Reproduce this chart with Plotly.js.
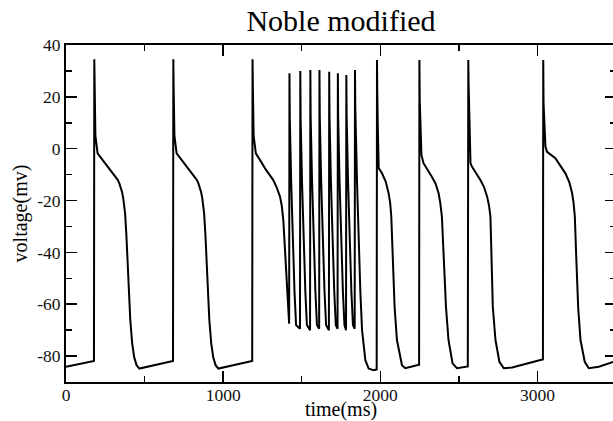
<!DOCTYPE html>
<html>
<head>
<meta charset="utf-8">
<script src="https://cdn.plot.ly/plotly-3.0.1.min.js"></script>
<style>
  html, body { margin: 0; padding: 0; overflow: hidden; background: #fff; }
  #chart { width: 618px; height: 421px; }
</style>
</head>
<body>
<div id="chart"></div>
<script>
// Regular paced beats (time in ms, voltage in mV)
const pacedTime = [0, 178, 180, 182, 187, 201, 229, 264, 299, 329, 339, 349, 357, 364, 370, 376, 384, 391, 399, 409, 421, 434, 449, 467,
  681, 683, 685, 690, 704, 732, 767, 802, 832, 842, 852, 860, 867, 873, 879, 887, 894, 902, 912, 924, 937, 952, 970,
  1185, 1187, 1189, 1194, 1208, 1236, 1271, 1318, 1340, 1362, 1373, 1383, 1394, 1405, 1415, 1420];
const pacedVolt = [-84.1, -81.9, 34.5, 24, 5, -1.8, -4, -6.8, -9.5, -12, -13.3, -15, -16.8, -19, -21.5, -25, -33, -42, -55, -66, -75, -80.5, -83.5, -84.8,
  -81.9, 34.5, 24, 5, -1.8, -4, -6.8, -9.5, -12, -13.3, -15, -16.8, -19, -21.5, -25, -33, -42, -55, -66, -75, -80.5, -83.5, -84.8,
  -81.9, 34.5, 24, 5, -1.8, -4.5, -8, -12, -14.8, -18.5, -22, -27.6, -40.4, -53.3, -64.9, -67.5];

// Fast burst of spikes
const burstTime = [1422, 1424, 1433, 1443, 1454, 1464, 1489,
  1491, 1493, 1502, 1512, 1523, 1533, 1553,
  1555, 1557, 1566, 1576, 1587, 1597, 1611,
  1613, 1615, 1624, 1634, 1645, 1655, 1673,
  1675, 1677, 1686, 1696, 1707, 1717, 1728,
  1730, 1732, 1741, 1751, 1762, 1772, 1782,
  1784, 1786, 1795, 1805, 1816, 1826, 1837,
  1839, 1841, 1852, 1862, 1873, 1884, 1905, 1926, 1957, 1977];
const burstVolt = [29.1, 12, -13, -35, -55, -68, -69.5,
  30, 12, -13, -35, -55, -68, -70,
  30.4, 12, -13, -35, -55, -68, -69.5,
  30.4, 12, -13, -35, -55, -68, -70,
  29.7, 12, -13, -35, -55, -68, -69.5,
  29.1, 12, -13, -35, -55, -68, -70,
  28.4, 12, -13, -35, -55, -68, -69.5,
  30.4, 16, -13, -35, -55, -70, -81.6, -84.8, -85.5, -85.2];

// Beats after the burst
const recoveryTime = [1979, 1981, 1984, 1990, 2011, 2035, 2053, 2063, 2070, 2078, 2091, 2106, 2138, 2159, 2234, 2247,
  2249, 2251, 2262, 2275, 2328, 2352, 2371, 2382, 2392, 2402, 2418, 2434, 2460, 2488, 2541, 2557,
  2560, 2562, 2574, 2584, 2637, 2660, 2680, 2692, 2701, 2707, 2716, 2733, 2758, 2786, 2839, 3019, 3035,
  3037, 3039, 3051, 3061, 3114, 3178, 3202, 3221, 3230, 3238, 3247, 3259, 3274, 3301, 3327, 3391, 3500];
const recoveryVolt = [34.2, 22, 9, -7.5, -9.5, -12.8, -17.2, -21, -26.2, -41.7, -61, -73.8, -83.5, -84.7, -83.5, -83.3,
  34.2, 19, -2.4, -5.6, -10.8, -13.5, -17.2, -21, -26.2, -41.7, -61, -73.8, -82.8, -84.7, -84.1, -84,
  34.2, 25, -5.6, -7, -12.1, -14.8, -18.5, -22, -26.2, -41.7, -61, -73.8, -82.2, -84.7, -84.4, -81.5, -81.3,
  34.2, 17.6, 0.8, -1.2, -3.7, -9.5, -12.8, -17.2, -21, -26.2, -41.7, -61, -73.8, -82.2, -84.7, -84.1, -81.9];

const xTickVals = [0, 1000, 2000, 3000];
const xTickText = ['0', '1000', '2000', '3000'];
const yTickVals = [-80, -60, -40, -20, 0, 20, 40];
const yTickText = ['-80', '-60', '-40', '-20', '0', '20', '40'];

const trace = {
  x: pacedTime.concat(burstTime, recoveryTime),
  y: pacedVolt.concat(burstVolt, recoveryVolt),
  type: 'scatter',
  mode: 'lines',
  line: { color: '#000', width: 2 },
  hoverinfo: 'skip'
};

const serif = 'Liberation Serif';
const axisCommon = {
  showline: true, linecolor: '#000', linewidth: 2,
  mirror: 'ticks', ticks: 'inside', ticklen: 11, tickwidth: 1.5, tickcolor: '#000',
  showgrid: false, zeroline: false,
  tickfont: { family: serif, size: 17.5, color: '#111' }
};

const layout = {
  width: 618, height: 421,
  margin: { l: 66, r: 2, t: 45, b: 39 },
  paper_bgcolor: '#fff', plot_bgcolor: '#fff',
  font: { family: serif, color: '#111' },
  showlegend: false,
  title: { text: 'Noble modified', font: { family: serif, size: 30, color: '#000' },
           xref: 'paper', x: 0.5, xanchor: 'center', yref: 'container', y: 0.952, yanchor: 'middle' },
  xaxis: Object.assign({}, axisCommon, {
    range: [0, 3500], tickmode: 'array', tickvals: xTickVals, ticktext: xTickText,
    ticklabelposition: 'outside', ticklabelstandoff: -4,
    minor: { dtick: 500, tick0: 0, ticks: 'inside', ticklen: 6, tickwidth: 1.5, tickcolor: '#000' },
    title: { text: 'time(ms)', font: { family: serif, size: 20, color: '#000' }, standoff: 12 }
  }),
  yaxis: Object.assign({}, axisCommon, {
    range: [-90, 40], tickmode: 'array', tickvals: yTickVals, ticktext: yTickText,
    minor: { dtick: 10, tick0: 0, ticks: 'inside', ticklen: 6, tickwidth: 1.5, tickcolor: '#000' },
    title: { text: 'voltage(mv)', font: { family: serif, size: 20, color: '#000' }, standoff: 4 }
  })
};

Plotly.newPlot('chart', [trace], layout, { staticPlot: true, displayModeBar: false });
</script>
</body>
</html>
